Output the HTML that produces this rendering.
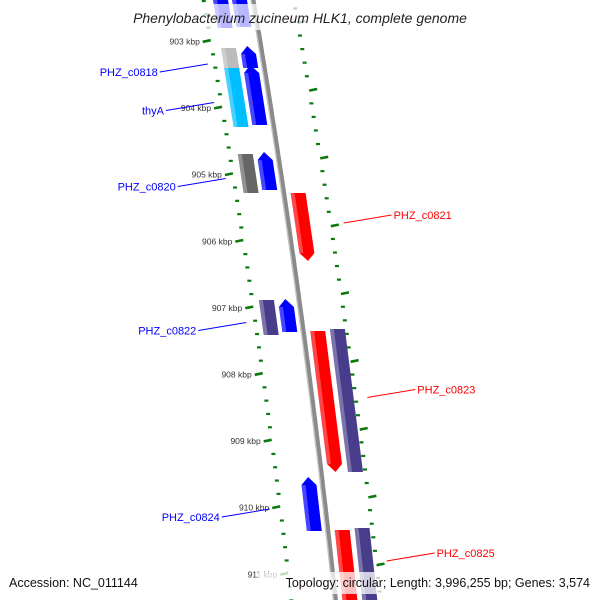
<!DOCTYPE html>
<html><head><meta charset="utf-8"><style>
html,body{margin:0;padding:0;background:#fff;}
svg{display:block;font-family:"Liberation Sans",sans-serif;}
</style></head><body>
<svg id="chart" width="600" height="600" viewBox="0 0 600 600" xmlns="http://www.w3.org/2000/svg">
<defs>
<linearGradient id="gshade" x1="0" x2="1" y1="0" y2="0">
<stop offset="0" stop-color="#fff" stop-opacity="0.45"/><stop offset="0.3" stop-color="#fff" stop-opacity="0.15"/><stop offset="1" stop-color="#fff" stop-opacity="0"/>
</linearGradient>
</defs>
<g id="ticks"></g>
<g id="backbone"></g>
<g id="features"></g>
<g id="labels"></g>
<rect x="110" y="4" width="380" height="26" fill="#fff" fill-opacity="0.72"/>
<text x="300" y="23" text-anchor="middle" font-size="14" font-style="italic" fill="#222">Phenylobacterium zucineum HLK1, complete genome</text>
<rect x="4" y="572" width="128" height="22" fill="#fff" fill-opacity="0.75"/>
<rect x="258" y="572" width="336" height="22" fill="#fff" fill-opacity="0.75"/>
<text x="9" y="587" font-size="12.5" fill="#111">Accession: NC_011144</text>
<text x="590" y="587" text-anchor="end" font-size="12.5" fill="#111">Topology: circular; Length: 3,996,255 bp; Genes: 3,574</text>
</svg>
<script>
// ---- data (kbp) ----
const geneStarts = [902.23, 902.23, 903.105, 903.405, 903.075, 903.36, 904.697, 904.667, 905.282, 906.889, 906.874, 907.354, 907.324, 909.547, 910.342, 910.312];
const geneEnds   = [902.805, 902.79, 903.435, 904.291, 903.405, 904.261, 905.282, 905.237, 906.303, 907.414, 907.369, 909.471, 909.471, 910.357, 911.6, 911.6];
const geneStrands = [-1, -1, -1, -1, -1, -1, -1, -1, 1, -1, -1, 1, 1, -1, 1, 1];
const geneTracks  = [2, 1, 2, 2, 1, 1, 2, 1, 1, 2, 1, 1, 2, 1, 1, 2];
const geneShapes  = ["arrow","arrow","box","box","arrow","arrow","box","arrow","arrow","box","arrow","arrow","box","arrow","arrow","box"];
const geneColors  = ["#0000ff","#0000ff","#bcbcbc","#00bfff","#0000ff","#0000ff","#666666","#0000ff","#ff0000","#483d8b","#0000ff","#ff0000","#483d8b","#0000ff","#ff0000","#483d8b"];
const geneLabels  = ["","","PHZ_c0818","thyA","","","PHZ_c0820","","PHZ_c0821","PHZ_c0822","","PHZ_c0823","","PHZ_c0824","PHZ_c0825",""];
const tickStart = 902.4, tickEnd = 911.4, tickStep = 0.2;

// ---- axis functions ----
const NS = "http://www.w3.org/2000/svg";
function bx(Y){ return 253 + 0.169*Y - 5.28e-5*Y*Y; }
function yOf(k){ return 41 + 66.6*(k-903); }
function yOuter(k){ return 22 + 67.8*(k-903); }
function offDotL(Y){ return -49 + 4*(Y-50)/450; }
function offDotR(Y){ return 41 + 4*(Y-37)/530; }
function trackOff(strand, track){
  if(strand<0) return track===1 ? -21 : -40;
  return track===1 ? 7 : 27;
}
function P(off, Y){ return (bx(Y)+off).toFixed(1)+","+Y.toFixed(1); }
function mk(tag, attrs, parent){
  const el = document.createElementNS(NS, tag);
  for(const k in attrs) el.setAttribute(k, attrs[k]);
  parent.appendChild(el); return el;
}

// backbone
const bb = document.getElementById("backbone");
let pts=[], pts2=[];
for(let Y=-5; Y<=605; Y+=5){ pts.push(P(0,Y)); pts2.push(P(-2,Y)); }
let bl = mk("polyline",{points:pts.join(" "),fill:"none",stroke:"#8a8a8a","stroke-width":5},bb);


let bh = mk("polyline",{points:pts2.join(" "),fill:"none",stroke:"#c4c4c4","stroke-width":1.3},bb);



// ticks
const tg = document.getElementById("ticks");
const nT = Math.round((tickEnd-tickStart)/tickStep);
for(let i=0;i<=nT;i++){
  const k = tickStart + i*tickStep;
  const major = Math.abs(k-Math.round(k))<1e-6;
  // inner (left) row
  let Y = yOf(k), X = bx(Y)+offDotL(Y);
  let t;
  if(major){
    t = mk("line",{x1:X-8,y1:Y+0.8,x2:X,y2:Y-0.8,stroke:"#0a7a0a","stroke-width":2.6},tg);
    
    
    const lb = mk("text",{x:(X-11).toFixed(1),y:(Y+3.5).toFixed(1),"text-anchor":"end","font-size":"8.5",fill:"#333"},tg);
    lb.textContent = Math.round(k)+" kbp";
    
    
  } else {
    t = mk("line",{x1:X-2,y1:Y,x2:X+2,y2:Y,stroke:"#0a7a0a","stroke-width":2.2},tg);
    
    
  }
  // outer (right) row
  Y = yOuter(k); X = bx(Y)+offDotR(Y);
  if(major){
    t = mk("line",{x1:X,y1:Y+0.8,x2:X+8,y2:Y-0.8,stroke:"#0a7a0a","stroke-width":2.6},tg);
    
    
  } else {
    t = mk("line",{x1:X-2,y1:Y,x2:X+2,y2:Y,stroke:"#0a7a0a","stroke-width":2.2},tg);
    
    
  }
}

// features
const fg = document.getElementById("features");
const lg = document.getElementById("labels");
const W = 15, H = 8;
for(let i=0;i<geneStarts.length;i++){
  const Ya = yOf(geneStarts[i]), Yb = yOf(geneEnds[i]);
  const o = trackOff(geneStrands[i], geneTracks[i]);
  let poly;
  if(geneShapes[i]==="arrow" && geneStrands[i]<0){
    poly = [P(o,Yb),P(o,Ya+H),P(o+W/2,Ya),P(o+W,Ya+H),P(o+W,Yb)];
  } else if(geneShapes[i]==="arrow"){
    poly = [P(o,Ya),P(o+W,Ya),P(o+W,Yb-H),P(o+W/2,Yb),P(o,Yb-H)];
  } else {
    poly = [P(o,Ya),P(o+W,Ya),P(o+W,Yb),P(o,Yb)];
  }
  const f = mk("polygon",{points:poly.join(" "),fill:geneColors[i]},fg);
  
  
  const sh = [P(o,Ya+(geneStrands[i]<0&&geneShapes[i]==="arrow"?H:0)),P(o+4,Ya+(geneStrands[i]<0&&geneShapes[i]==="arrow"?H:0)),
              P(o+4,Yb-(geneStrands[i]>0&&geneShapes[i]==="arrow"?H:0)),P(o,Yb-(geneStrands[i]>0&&geneShapes[i]==="arrow"?H:0))];
  const s = mk("polygon",{points:sh.join(" "),fill:"#fff","fill-opacity":"0.28"},fg);
  
  

  if(geneLabels[i]){
    const Ym = (Ya+Math.min(Yb,600))/2;
    let x1,y1,x2,y2,tx,ty,anchor,col;
    if(geneStrands[i]<0){
      x1 = bx(Ym)-55; y1 = Ym+5; x2 = x1-48; y2 = Ym+13; tx = x2-2; ty = Ym+17; anchor="end"; col="#0000ff";
    } else {
      x1 = bx(Ym)+55; y1 = Ym-4; x2 = x1+48; y2 = Ym-12; tx = x2+2; ty = Ym-8; anchor="start"; col="#ff0000";
    }
    const ln = mk("line",{x1:x1,y1:y1,x2:x2,y2:y2,stroke:col,"stroke-width":1},lg);
    
    
    const tx_ = mk("text",{x:tx.toFixed(1),y:ty.toFixed(1),"text-anchor":anchor,"font-size":"11",fill:col},lg);
    tx_.textContent = geneLabels[i];
    
    
  }
}
</script>
</body></html>
